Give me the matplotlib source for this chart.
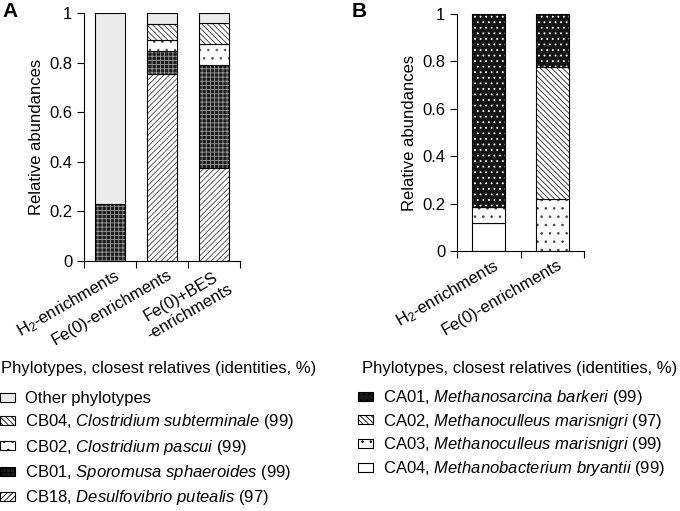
import matplotlib
matplotlib.use("Agg")
import matplotlib.pyplot as plt
from matplotlib.patches import Patch
from matplotlib.transforms import ScaledTranslation
import numpy as np

plt.rcParams['font.family'] = ['Liberation Sans', 'DejaVu Sans']
plt.rcParams['mathtext.fontset'] = 'custom'
plt.rcParams['mathtext.rm'] = 'Liberation Sans'
plt.rcParams['mathtext.it'] = 'Liberation Sans:italic'
plt.rcParams['hatch.linewidth'] = 0.6

# panel A data (bottom to top of each bar)
cats_a = ['H$_2$-enrichments', 'Fe(0)-enrichments', 'Fe(0)+BES\n-enrichments']
cb18 = [0.0, 0.755, 0.375]
cb01 = [0.23, 0.09, 0.415]
cb02 = [0.0, 0.045, 0.085]
cb04 = [0.0, 0.067, 0.085]
other = [0.77, 0.043, 0.04]

# panel B data
cats_b = ['H$_2$-enrichments', 'Fe(0)-enrichments']
ca04 = [0.12, 0.0]
ca03 = [0.065, 0.22]
ca02 = [0.0, 0.555]
ca01 = [0.815, 0.225]

labels_a = ['CB18, $\\mathit{Desulfovibrio\\ putealis}$ (97)',
            'CB01, $\\mathit{Sporomusa\\ sphaeroides}$ (99)',
            'CB02, $\\mathit{Clostridium\\ pascui}$ (99)',
            'CB04, $\\mathit{Clostridium\\ subterminale}$ (99)',
            'Other phylotypes']
labels_b = ['CA04, $\\mathit{Methanobacterium\\ bryantii}$ (99)',
            'CA03, $\\mathit{Methanoculleus\\ marisnigri}$ (99)',
            'CA02, $\\mathit{Methanoculleus\\ marisnigri}$ (97)',
            'CA01, $\\mathit{Methanosarcina\\ barkeri}$ (99)']

# (facecolor, hatch, hatch colour)
styles_a = [('white', '//////', '#444444'),
            ('#1e1e1e', '++++', '#9a9a9a'),
            ('white', '..', '#555555'),
            ('white', '\\\\\\\\\\\\', '#333333'),
            ('#ebebeb', None, '#ebebeb')]
styles_b = [('white', None, 'white'),
            ('white', '..', '#444444'),
            ('white', '\\\\\\\\\\\\', '#222222'),
            ('#141414', '...', 'white')]

W, H = 680, 511
fig = plt.figure(figsize=(6.8, 5.11), dpi=100)
ax_a = fig.add_axes([84 / W, 1 - 261 / H, 156 / W, 248 / H])
ax_b = fig.add_axes([457 / W, 1 - 251 / H, 127 / W, 237 / H])


def stacked(ax, cats, series, styles, width):
    x = np.arange(len(cats)) + 0.5
    bottom = np.zeros(len(cats))
    for vals, (fc, hatch, hc) in zip(series, styles):
        vals = np.array(vals)
        ax.bar(x, vals, width, bottom=bottom, color=fc, hatch=hatch,
               edgecolor=hc, linewidth=0)
        ax.bar(x, vals, width, bottom=bottom, fill=False,
               edgecolor='black', linewidth=0.8)
        bottom += vals
    ax.set_xlim(0, len(cats))
    ax.set_ylim(0, 1)
    ax.set_xticks(np.arange(len(cats) + 1))
    ax.set_xticklabels([])
    ax.set_xticks(x, minor=True)
    ax.set_xticklabels(cats, minor=True, rotation=30, ha='right',
                       rotation_mode='anchor', fontsize=12,
                       multialignment='center')
    ax.tick_params(axis='x', which='minor', length=0, pad=4)
    ax.tick_params(axis='x', which='major', length=5, width=0.8)
    ax.set_yticks([0, 0.2, 0.4, 0.6, 0.8, 1.0])
    ax.set_yticklabels(['0', '0.2', '0.4', '0.6', '0.8', '1'], fontsize=12)
    ax.tick_params(axis='y', length=5, width=0.8)
    ax.set_ylabel('Relative abundances', fontsize=12)
    for s in ['top', 'right']:
        ax.spines[s].set_visible(False)
    for s in ['left', 'bottom']:
        ax.spines[s].set_linewidth(0.8)
    # nudge rotated labels so they end near the bar centre
    off = ScaledTranslation(5 / 100, 0, fig.dpi_scale_trans)
    for lbl in ax.get_xticklabels(minor=True):
        lbl.set_transform(lbl.get_transform() + off)


stacked(ax_a, cats_a, [cb18, cb01, cb02, cb04, other], styles_a, 0.56)
stacked(ax_b, cats_b, [ca04, ca03, ca02, ca01], styles_b, 0.52)

fig.text(2 / W, 1 - 11 / H, 'A', fontsize=15, fontweight='bold', va='center')
fig.text(352 / W, 1 - 11 / H, 'B', fontsize=15, fontweight='bold', va='center')


def legend(x_head, x_leg, y_leg, labels, styles, spacing):
    fig.text(x_head / W, 1 - 368 / H, 'Phylotypes, closest relatives (identities, %)',
             fontsize=12, va='center')
    handles = [Patch(facecolor=fc, hatch=h, edgecolor='black', linewidth=0.8)
               for fc, h, hc in styles]
    fig.legend(handles[::-1], labels[::-1], loc='upper left',
               bbox_to_anchor=(x_leg / W, 1 - y_leg / H), frameon=False,
               borderpad=0, borderaxespad=0, fontsize=12,
               handlelength=0.9, handleheight=0.45, handletextpad=0.6,
               labelspacing=spacing)


legend(1, 0, 391, labels_a, styles_a, 0.38)
legend(362, 358, 388, labels_b, styles_b, 0.28)

fig.savefig('out.png', dpi=100)
